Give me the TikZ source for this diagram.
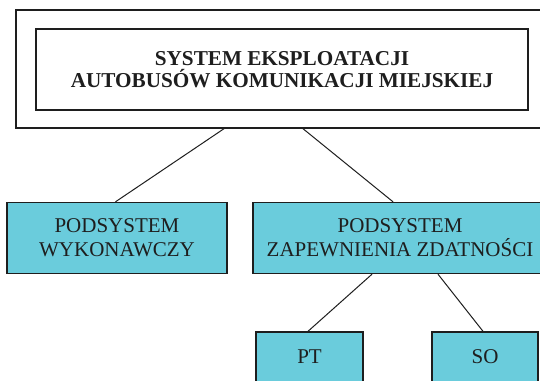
\documentclass[tikz,border=0pt]{standalone}
\usepackage{fontspec}
\setmainfont{Liberation Serif}
\definecolor{boxcyan}{RGB}{106,204,220}
\definecolor{ink}{RGB}{30,30,30}
\tikzset{
  framebox/.style={draw=ink, line width=1.4pt, fill=white, inner sep=0pt},
  subbox/.style={draw=ink, line width=1.4pt, fill=boxcyan, inner sep=0pt, align=center,
    text=ink, font=\fontsize{21}{24}\selectfont},
  link/.style={draw=ink, line width=1pt}
}
\begin{document}
\begin{tikzpicture}[x=1pt,y=-1pt]
\clip (0,0) rectangle (540,380);
\fill[white] (0,0) rectangle (540,380);
\node[framebox, minimum width=544pt, minimum height=118pt] (outer) at (288,69) {};
\node[framebox, minimum width=492pt, minimum height=81pt, align=center, text=ink,
  font=\fontsize{21.2}{22.5}\selectfont\bfseries] (inner) at (282,69.5)
  {SYSTEM EKSPLOATACJI\\AUTOBUSÓW KOMUNIKACJI MIEJSKIEJ};
\node[subbox, minimum width=220pt, minimum height=71pt] (left) at (117,238)
  {PODSYSTEM\\WYKONAWCZY};
\node[subbox, minimum width=294pt, minimum height=71pt] (right) at (400,238)
  {PODSYSTEM\\ZAPEWNIENIA ZDATNOŚCI};
\node[subbox, minimum width=107pt, minimum height=50pt] (pt) at (309.5,357) {PT};
\node[subbox, minimum width=106pt, minimum height=50pt] (so) at (485,357) {SO};
\draw[link] ([xshift=-64pt]outer.south) -- ([xshift=-1.5pt]left.north);
\draw[link] ([xshift=15pt]outer.south) -- ([xshift=-7pt]right.north);
\draw[link] ([xshift=-28pt]right.south) -- ([xshift=-1.5pt]pt.north);
\draw[link] ([xshift=38pt]right.south) -- ([xshift=-2pt]so.north);
\end{tikzpicture}
\end{document}
